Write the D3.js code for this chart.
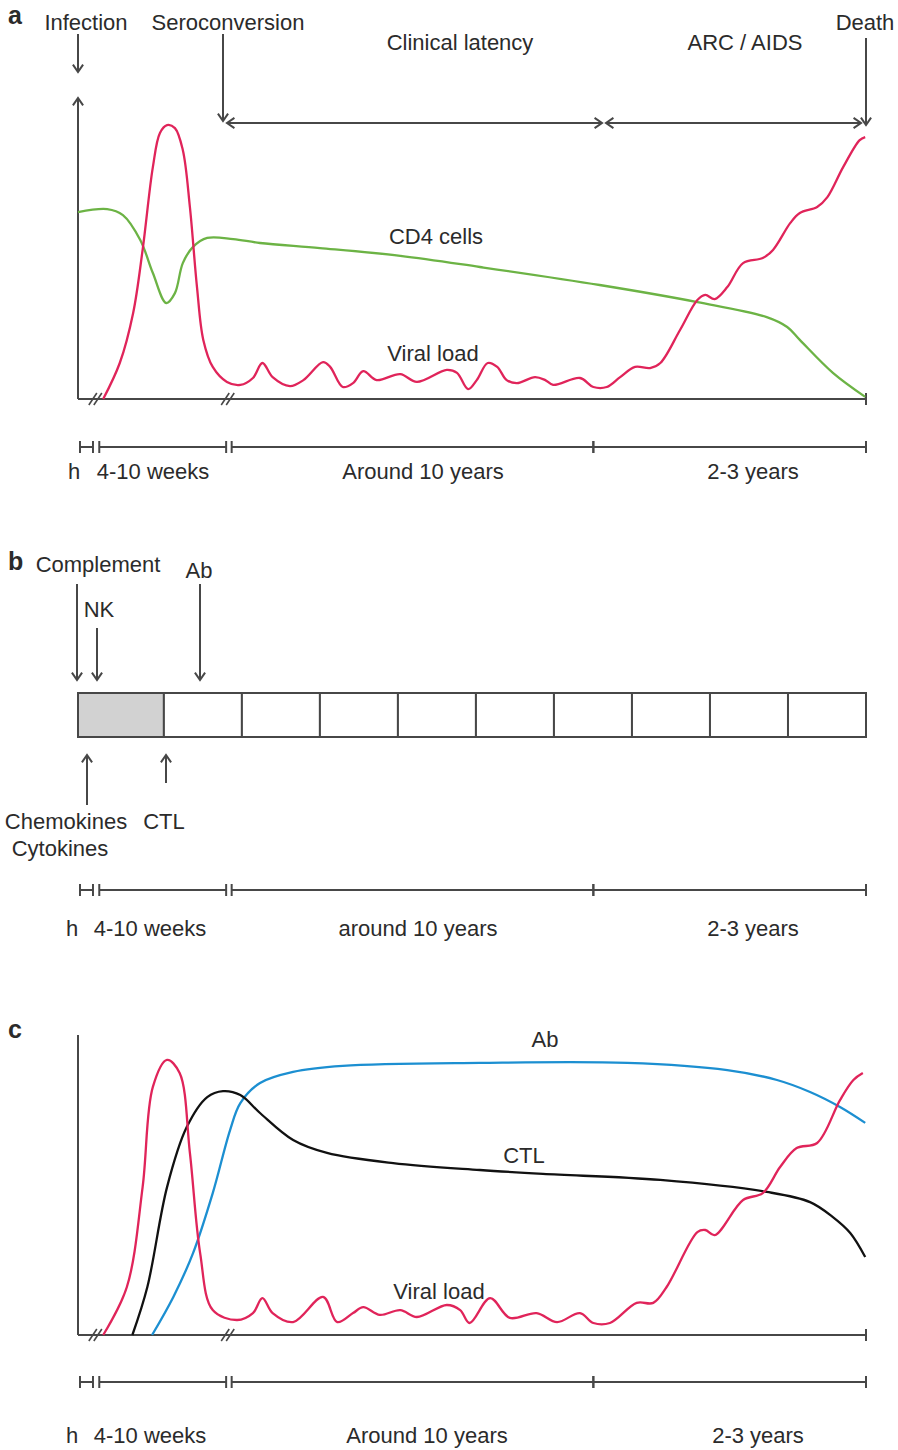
<!DOCTYPE html>
<html>
<head>
<meta charset="utf-8">
<script src="https://cdn.jsdelivr.net/npm/d3@7"></script>
<style>
  body { margin: 0; background: #fff; }
  text { font-family: "Liberation Sans", Arial, sans-serif; fill: #2b2b2b; }
</style>
</head>
<body>
<div id="chart"></div>
<script>
// Curves are stored as [time, level] pairs, time 0-100 across the axis, level 0-100 up the axis
var viralA = [[3.2,0],[5.3,12],[7.0,28.7],[8.2,49.7],[9.5,77.3],[10.4,88.7],[11.3,91.3],[12.3,90.3],[13.3,83],
  [14.2,64],[15.1,37.3],[15.9,19.7],[17.1,10.7],[18.9,5.7],[20.6,4.7],[22.2,7],[23.4,12],[24.7,7.3],[26.9,4.3],
  [28.6,6.3],[31.1,12.3],[32.0,10.7],[33.6,4],[34.9,5.3],[36.2,9.3],[37.9,6.3],[40.9,8.3],[43.0,5.7],[46.8,9.7],
  [48.1,8.7],[49.5,3.3],[50.6,6.3],[52.0,12],[53.2,10.7],[54.4,6.3],[55.7,5.3],[58.0,7.3],[59.3,6.3],[60.3,4.7],
  [63.7,7],[65.4,4],[67.1,4],[68.8,7.3],[70.7,10.7],[72.6,10.3],[73.9,12],[76.4,23],[78.6,33],[79.6,34.7],
  [80.8,33.3],[82.4,37.3],[84.4,45.3],[86.9,47],[88.2,49.7],[90.4,58.7],[91.6,62],[93.8,64],[95.1,67.3],
  [97.1,77.3],[99.2,86.3],[99.9,87.3]];

var cd4A = [[0,62.3],[3.7,63.3],[5.7,61.3],[7.9,53],[9.5,42],[11.2,32],[12.3,35.3],[13.3,45.3],[14.6,50.7],
  [16.4,53.7],[19.7,53.3],[23.1,52],[30.7,50.3],[40.9,47.7],[51.0,44],[66.2,38],[78.6,32.3],[87.4,27.3],
  [90.0,24],[91.6,19.7],[95.8,8.7],[99.9,0.7]];

var viralC = [[3.2,0],[6.2,16],[8.2,49.3],[9.5,82.7],[11.3,91.7],[12.9,87.3],[14.2,60.7],[15.5,27.3],[17.1,8.3],
  [20.2,5],[22.2,7.3],[23.4,12.3],[24.7,7.3],[27.3,4.3],[31.1,12.7],[32.9,4.3],[34.9,7.3],[36.2,9.3],[38.3,6.7],
  [40.9,8.3],[43.0,6],[46.8,10],[48.5,8.3],[49.7,4],[52.3,12.3],[54.8,5.7],[58.2,7.3],[60.8,4.3],[63.7,7.3],
  [65.4,4],[67.5,4],[70.9,10.7],[73.0,10.7],[74.7,16],[78.6,34.3],[79.6,35],[80.8,33.3],[84.4,45],[86.9,47.3],
  [89.1,56],[91.2,62.3],[93.8,64],[96.7,78.3],[98.4,85],[99.6,87.3]];

var ctlC = [[6.9,0],[8.8,16],[11.3,49.3],[13.8,69.3],[16.4,79.3],[18.4,81.3],[20.6,80],[23.1,74],[27.3,65],
  [31.6,60.7],[40.0,57.3],[51.0,55],[59.0,53.7],[73.9,51.7],[87.4,47.7],[92.9,44.3],[95.8,39.3],[98.0,34],[99.9,26]];

var abC = [[9.4,0],[12.1,12.7],[14.6,27.3],[17.1,47.3],[19.3,68.3],[20.6,77.3],[23.1,84],[27.3,87.7],[33.6,89.7],
  [51.0,90.7],[69.7,90.7],[82.4,88.3],[88.7,85],[92.9,81],[96.7,76],[99.9,70.7]];

// Timeline segments (start, end) in the same 0-100 time units
var timeSegments = [[0.25,1.9],[2.7,18.8],[19.5,65.4],[65.4,100]];
var breakTimes = [2.2, 19.0];
var cellEdges = [0, 10.9, 20.8, 30.7, 40.6, 50.5, 60.4, 70.3, 80.2, 90.1, 100];

var timeLabelsA = ['h', '4-10 weeks', 'Around 10 years', '2-3 years'];
var timeLabelsB = ['h', '4-10 weeks', 'around 10 years', '2-3 years'];
var timeLabelsC = ['h', '4-10 weeks', 'Around 10 years', '2-3 years'];

var svgWidth = 898;
var svgHeight = 1450;
var axisColor = '#474747';
var red = '#e0245a';
var green = '#6cb345';
var blue = '#1c8fd1';

var svg = d3.select('#chart')
  .append('svg')
  .attr('width', svgWidth)
  .attr('height', svgHeight);

var x = d3.scaleLinear().domain([0, 100]).range([78, 866]);
var yA = d3.scaleLinear().domain([0, 100]).range([399, 99]);
var yC = d3.scaleLinear().domain([0, 100]).range([1335, 1035]);

// draw a straight line with an open chevron head at its end
function arrow(x1, y1, x2, y2) {
  var ang = Math.atan2(y2 - y1, x2 - x1);
  var len = 9, spread = 0.6;
  svg.append('line')
    .attr('x1', x1).attr('y1', y1).attr('x2', x2).attr('y2', y2)
    .attr('stroke', axisColor).attr('stroke-width', 2);
  svg.append('path')
    .attr('d', 'M' + (x2 - len * Math.cos(ang - spread)) + ',' + (y2 - len * Math.sin(ang - spread)) +
      'L' + x2 + ',' + y2 +
      'L' + (x2 - len * Math.cos(ang + spread)) + ',' + (y2 - len * Math.sin(ang + spread)))
    .attr('fill', 'none').attr('stroke', axisColor).attr('stroke-width', 2);
}

function label(txt, cx, y, opts) {
  opts = opts || {};
  return svg.append('text')
    .attr('x', cx).attr('y', y)
    .attr('text-anchor', opts.anchor || 'middle')
    .attr('font-size', opts.size || 22)
    .attr('font-weight', opts.bold ? 'bold' : 'normal')
    .text(txt);
}

function curve(data, yScale, color) {
  var line = d3.line()
    .x(d => x(d[0]))
    .y(d => yScale(d[1]))
    .curve(d3.curveCatmullRom.alpha(0.5));
  svg.append('path')
    .datum(data)
    .attr('d', line)
    .attr('fill', 'none')
    .attr('stroke', color)
    .attr('stroke-width', 2.3)
    .attr('stroke-linejoin', 'round');
}

// x-axis with two break marks and an end tick
function xAxisLine(y) {
  svg.append('line')
    .attr('x1', x(0)).attr('x2', x(100)).attr('y1', y).attr('y2', y)
    .attr('stroke', axisColor).attr('stroke-width', 2);
  svg.append('line')
    .attr('x1', x(100)).attr('x2', x(100)).attr('y1', y - 6).attr('y2', y + 6)
    .attr('stroke', axisColor).attr('stroke-width', 2);
  breakTimes.forEach(t => {
    [-2.5, 2.5].forEach(off => {
      svg.append('line')
        .attr('x1', x(t) + off - 4).attr('y1', y + 6)
        .attr('x2', x(t) + off + 4).attr('y2', y - 6)
        .attr('stroke', axisColor).attr('stroke-width', 1.6);
    });
  });
}

// timeline bar with ticks and labels underneath
function timeline(y, labels, labelY, centers) {
  timeSegments.forEach(s => {
    svg.append('line')
      .attr('x1', x(s[0])).attr('x2', x(s[1])).attr('y1', y).attr('y2', y)
      .attr('stroke', axisColor).attr('stroke-width', 2);
    [s[0], s[1]].forEach(t => {
      svg.append('line')
        .attr('x1', x(t)).attr('x2', x(t)).attr('y1', y - 6).attr('y2', y + 6)
        .attr('stroke', axisColor).attr('stroke-width', 2);
    });
  });
  labels.forEach((txt, i) => label(txt, centers[i], labelY));
}

// ---------------- panel a ----------------
label('a', 8, 24, {anchor: 'start', bold: true, size: 25});
label('Infection', 86, 30);
label('Seroconversion', 228, 30);
label('Clinical latency', 460, 50);
label('ARC / AIDS', 745, 50);
label('Death', 865, 30);

arrow(78, 34, 78, 72);
arrow(223, 34, 223, 121);
arrow(866, 38, 866, 125);
arrow(415, 123, 227, 123);
arrow(415, 123, 602, 123);
arrow(735, 123, 606, 123);
arrow(735, 123, 861, 123);

// y-axis with arrow on top
arrow(x(0), yA(0), x(0), 98);
xAxisLine(yA(0));

curve(cd4A, yA, green);
curve(viralA, yA, red);
label('CD4 cells', 436, 244);
label('Viral load', 433, 361);

timeline(447, timeLabelsA, 479, [74, 153, 423, 753]);

// ---------------- panel b ----------------
label('b', 8, 570, {anchor: 'start', bold: true, size: 25});
label('Complement', 98, 572);
label('NK', 99, 617);
label('Ab', 199, 578);
arrow(77, 584, 77, 680);
arrow(97, 628, 97, 680);
arrow(200, 584, 200, 680);

svg.append('g')
  .selectAll('rect')
  .data(d3.pairs(cellEdges))
  .enter()
  .append('rect')
  .attr('x', d => x(d[0]))
  .attr('y', 693)
  .attr('width', d => x(d[1]) - x(d[0]))
  .attr('height', 44)
  .attr('fill', (d, i) => i === 0 ? '#d2d2d2' : '#fff')
  .attr('stroke', axisColor)
  .attr('stroke-width', 2);

arrow(87, 805, 87, 755);
arrow(166, 783, 166, 755);
label('Chemokines', 66, 829);
label('Cytokines', 60, 856);
label('CTL', 164, 829);

timeline(890, timeLabelsB, 936, [72, 150, 418, 753]);

// ---------------- panel c ----------------
label('c', 8, 1038, {anchor: 'start', bold: true, size: 25});
svg.append('line')
  .attr('x1', x(0)).attr('x2', x(0)).attr('y1', yC(0)).attr('y2', 1035)
  .attr('stroke', axisColor).attr('stroke-width', 2);
xAxisLine(yC(0));

curve(abC, yC, blue);
curve(ctlC, yC, '#111');
curve(viralC, yC, red);
label('Ab', 545, 1047);
label('CTL', 524, 1163);
label('Viral load', 439, 1299);

timeline(1382, timeLabelsC, 1443, [72, 150, 427, 758]);
</script>
</body>
</html>
